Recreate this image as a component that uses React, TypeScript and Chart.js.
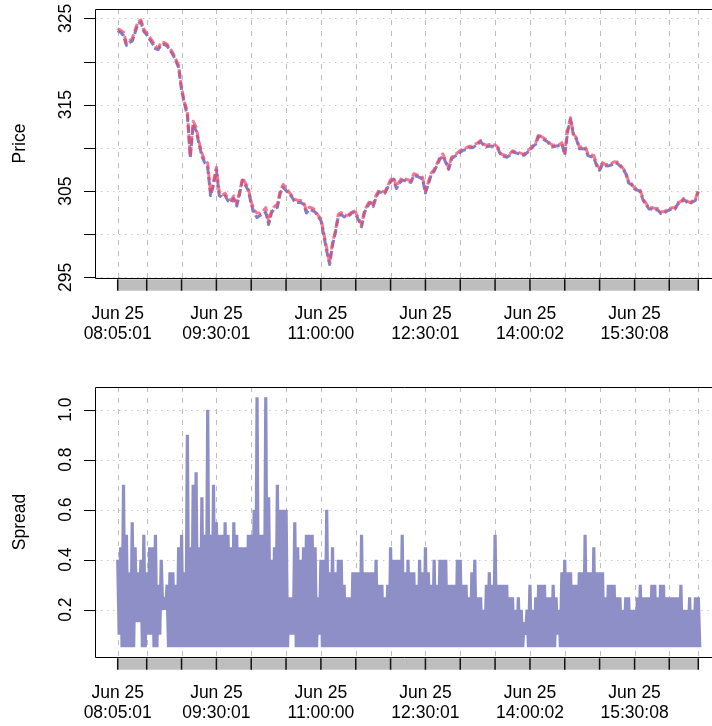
import React, { useEffect, useRef } from 'react';
import { Chart, registerables } from 'chart.js';

Chart.register(...registerables);

// Time axis: minutes after 08:00:00 on Jun 25; samples every 2.5 minutes starting 08:05:01
const START_MIN = 5.017;
const STEP_MIN = 2.5;

// Mid price (between bid and ask)
const midPrice = [
  323.7, 323.5, 323.2, 322.0, 322.3, 322.5, 323.5, 324.5, 324.7, 323.6,
  323.2, 322.7, 322.2, 321.6, 321.5, 322.1, 322.1, 321.9, 321.4, 320.9,
  320.2, 319.4, 316.8, 315.2, 314.0, 309.0, 312.9, 312.2, 310.6, 309.2,
  308.4, 308.0, 304.6, 305.9, 307.6, 304.6, 304.4, 304.6, 304.0, 303.8,
  304.3, 303.4, 304.8, 306.4, 305.8, 305.2, 303.6, 302.6, 302.2, 302.3,
  302.5, 302.8, 301.3, 302.6, 303.1, 303.3, 304.9, 305.6, 305.2, 304.8,
  304.4, 303.9, 303.8, 303.8, 303.6, 302.6, 303.0, 302.9, 302.7, 302.1,
  301.7, 300.0, 298.2, 296.6, 298.9, 300.3, 302.2, 302.4, 302.1, 302.1,
  302.3, 302.7, 302.4, 301.7, 301.0, 302.6, 303.3, 303.8, 303.3, 304.4,
  305.0, 304.9, 304.8, 305.5, 306.2, 306.5, 305.4, 306.0, 306.4, 306.3,
  306.2, 306.1, 306.9, 306.8, 306.7, 306.5, 304.9, 305.9, 307.0, 307.4,
  308.1, 308.8, 309.2, 308.4, 307.6, 308.8, 309.1, 309.3, 309.6, 309.8,
  309.9, 310.1, 310.1, 310.3, 310.5, 310.8, 310.4, 310.2, 310.3, 310.3,
  310.2, 310.0, 309.2, 309.1, 309.0, 309.2, 309.6, 309.5, 309.4, 309.3,
  309.2, 309.5, 309.8, 310.2, 310.5, 311.5, 311.2, 311.0, 310.8, 310.4,
  310.2, 310.3, 310.3, 310.5, 309.3, 312.0, 313.4, 311.5, 311.1, 310.0,
  310.0, 310.0, 309.2, 309.1, 309.0, 308.0, 307.5, 308.2, 308.0, 308.0,
  308.1, 308.3, 308.3, 308.0, 307.6, 307.1, 306.0, 305.8, 305.3, 305.2,
  305.0, 304.0, 303.5, 303.0, 303.0, 302.9, 302.9, 302.5, 302.5, 302.7,
  302.9, 303.0, 303.0, 303.6, 303.7, 304.1, 303.8, 303.6, 303.8, 304.0,
  305.0,
];

// Highest spread seen in each 2.5-minute interval
const spreadHigh = [
  0.4, 0.45, 0.7, 0.5, 0.35, 0.55, 0.45, 0.35, 0.4, 0.5,
  0.35, 0.45, 0.45, 0.5, 0.3, 0.4, 0.25, 0.3, 0.35, 0.35,
  0.3, 0.45, 0.5, 0.35, 0.9, 0.45, 0.7, 0.75, 0.45, 0.65,
  0.5, 1.0, 0.5, 0.7, 0.55, 0.5, 0.5, 0.55, 0.5, 0.45,
  0.55, 0.5, 0.45, 0.45, 0.45, 0.5, 0.5, 0.6, 1.05, 0.5,
  0.5, 1.05, 0.65, 0.4, 0.45, 0.7, 0.6, 0.6, 0.6, 0.25,
  0.25, 0.55, 0.45, 0.4, 0.45, 0.5, 0.5, 0.5, 0.45, 0.25,
  0.4, 0.4, 0.6, 0.35, 0.45, 0.35, 0.4, 0.4, 0.3, 0.25,
  0.25, 0.35, 0.35, 0.35, 0.5, 0.35, 0.35, 0.35, 0.35, 0.4,
  0.3, 0.3, 0.25, 0.3, 0.45, 0.4, 0.4, 0.4, 0.5, 0.35,
  0.4, 0.35, 0.35, 0.3, 0.4, 0.35, 0.45, 0.35, 0.3, 0.4,
  0.3, 0.4, 0.4, 0.4, 0.3, 0.3, 0.3, 0.4, 0.4, 0.3,
  0.3, 0.25, 0.35, 0.4, 0.25, 0.25, 0.2, 0.3, 0.35, 0.3,
  0.5, 0.3, 0.3, 0.3, 0.3, 0.25, 0.25, 0.2, 0.25, 0.2,
  0.15, 0.2, 0.3, 0.2, 0.25, 0.3, 0.3, 0.3, 0.25, 0.25,
  0.3, 0.25, 0.2, 0.35, 0.4, 0.35, 0.35, 0.3, 0.3, 0.35,
  0.35, 0.5, 0.35, 0.35, 0.45, 0.35, 0.35, 0.35, 0.25, 0.3,
  0.3, 0.3, 0.25, 0.25, 0.2, 0.25, 0.25, 0.2, 0.2, 0.25,
  0.3, 0.25, 0.25, 0.25, 0.3, 0.3, 0.25, 0.3, 0.3, 0.25,
  0.25, 0.25, 0.25, 0.25, 0.3, 0.2, 0.2, 0.25, 0.2, 0.25,
  0.25,
];

// Lowest spread seen in each 2.5-minute interval
const spreadLow = [
  0.1, 0.05, 0.05, 0.05, 0.05, 0.05, 0.15, 0.15, 0.05, 0.05,
  0.1, 0.1, 0.05, 0.05, 0.1, 0.2, 0.2, 0.05, 0.05, 0.05,
  0.05, 0.05, 0.05, 0.05, 0.05, 0.05, 0.05, 0.05, 0.05, 0.05,
  0.05, 0.05, 0.05, 0.05, 0.05, 0.05, 0.05, 0.05, 0.05, 0.05,
  0.05, 0.05, 0.05, 0.05, 0.05, 0.05, 0.05, 0.05, 0.05, 0.05,
  0.05, 0.05, 0.05, 0.05, 0.05, 0.05, 0.05, 0.05, 0.05, 0.1,
  0.1, 0.05, 0.05, 0.05, 0.05, 0.05, 0.05, 0.05, 0.05, 0.1,
  0.05, 0.05, 0.05, 0.05, 0.05, 0.05, 0.05, 0.05, 0.05, 0.05,
  0.05, 0.05, 0.05, 0.05, 0.05, 0.05, 0.05, 0.05, 0.05, 0.05,
  0.05, 0.05, 0.05, 0.05, 0.05, 0.05, 0.05, 0.05, 0.05, 0.05,
  0.05, 0.05, 0.05, 0.05, 0.05, 0.05, 0.05, 0.05, 0.05, 0.05,
  0.05, 0.05, 0.05, 0.05, 0.05, 0.05, 0.05, 0.05, 0.05, 0.05,
  0.05, 0.05, 0.05, 0.05, 0.05, 0.05, 0.05, 0.05, 0.05, 0.05,
  0.05, 0.05, 0.05, 0.05, 0.05, 0.05, 0.05, 0.05, 0.05, 0.05,
  0.1, 0.05, 0.05, 0.05, 0.05, 0.05, 0.05, 0.05, 0.05, 0.05,
  0.05, 0.1, 0.05, 0.05, 0.05, 0.05, 0.05, 0.05, 0.05, 0.05,
  0.05, 0.05, 0.05, 0.05, 0.05, 0.05, 0.05, 0.05, 0.05, 0.05,
  0.05, 0.05, 0.05, 0.05, 0.05, 0.05, 0.05, 0.05, 0.05, 0.05,
  0.05, 0.05, 0.05, 0.05, 0.05, 0.05, 0.05, 0.05, 0.05, 0.05,
  0.05, 0.05, 0.05, 0.05, 0.05, 0.05, 0.05, 0.05, 0.05, 0.05,
  0.05,
];

// Vertical grid / axis-bar divisions (minutes after 08:00)
const gridTimes = [5.017, 30, 60, 90.017, 120, 150, 180, 210, 240, 270.017, 300, 330, 360.033, 390, 420, 450.133, 480, 505.017];
const labelTimes = [5.017, 90.017, 180, 270.017, 360.033, 450.133];
const labelDates = ['Jun 25', 'Jun 25', 'Jun 25', 'Jun 25', 'Jun 25', 'Jun 25'];
const labelClock = ['08:05:01', '09:30:01', '11:00:00', '12:30:01', '14:00:02', '15:30:08'];

const priceTicks = [295, 300, 305, 310, 315, 320, 325];
const priceTickLabels = ['295', '', '305', '', '315', '', '325'];
const spreadTicks = [0.2, 0.4, 0.6, 0.8, 1.0];
const spreadTickLabels = ['0.2', '0.4', '0.6', '0.8', '1.0'];

const X_MIN = -14.53;
const X_MAX = 516.8;

const FONT = '17.5px "Liberation Sans", Arial, Helvetica, sans-serif';

const sampleTimes = midPrice.map((_, i) => START_MIN + STEP_MIN * i);

function panelPlugin(cfg: { ticks: number[]; labels: string[]; title: string }) {
  return {
    id: 'rPanel',
    beforeDatasetsDraw(chart: any) {
      const { ctx, chartArea: a, scales } = chart;
      const x = scales.x;
      const y = scales.y;
      ctx.save();
      ctx.lineWidth = 1;
      ctx.strokeStyle = '#cdcdcd';
      ctx.setLineDash([1.5, 4.5]);
      for (const v of cfg.ticks) {
        const py = Math.round(y.getPixelForValue(v)) + 0.5;
        ctx.beginPath();
        ctx.moveTo(a.left, py);
        ctx.lineTo(a.right, py);
        ctx.stroke();
      }
      ctx.strokeStyle = '#bdbdbd';
      ctx.setLineDash([5, 6]);
      for (const t of gridTimes) {
        const px = Math.round(x.getPixelForValue(t)) + 0.5;
        ctx.beginPath();
        ctx.moveTo(px, a.top);
        ctx.lineTo(px, a.bottom);
        ctx.stroke();
      }
      ctx.restore();
    },
    afterDatasetsDraw(chart: any) {
      const { ctx, chartArea: a, scales } = chart;
      const x = scales.x;
      const y = scales.y;
      ctx.save();
      // box
      ctx.setLineDash([]);
      ctx.strokeStyle = '#000';
      ctx.lineWidth = 1;
      const L = Math.round(a.left) + 0.5;
      const T = Math.round(a.top) + 0.5;
      const B = Math.round(a.bottom) + 0.5;
      ctx.beginPath();
      ctx.moveTo(a.right + 10, T);
      ctx.lineTo(L, T);
      ctx.lineTo(L, B);
      ctx.lineTo(a.right + 10, B);
      ctx.stroke();
      // y ticks
      ctx.fillStyle = '#000';
      ctx.font = FONT;
      cfg.ticks.forEach((v, i) => {
        const py = Math.round(y.getPixelForValue(v)) + 0.5;
        ctx.beginPath();
        ctx.moveTo(L, py);
        ctx.lineTo(L - 11.5, py);
        ctx.stroke();
        const lab = cfg.labels[i];
        if (lab) {
          ctx.save();
          ctx.translate(a.left - 24.5, y.getPixelForValue(v));
          ctx.rotate(-Math.PI / 2);
          ctx.textAlign = 'center';
          ctx.textBaseline = 'alphabetic';
          ctx.fillText(lab, 0, 0);
          ctx.restore();
        }
      });
      // axis title
      ctx.save();
      ctx.translate(25, (a.top + a.bottom) / 2);
      ctx.rotate(-Math.PI / 2);
      ctx.textAlign = 'center';
      ctx.textBaseline = 'alphabetic';
      ctx.fillText(cfg.title, 0, 0);
      ctx.restore();
      // grey time bar
      const x0 = x.getPixelForValue(gridTimes[0]);
      const x1 = x.getPixelForValue(gridTimes[gridTimes.length - 1]);
      const barTop = a.bottom + 1.3;
      const barBot = a.bottom + 12.7;
      ctx.fillStyle = '#bebebe';
      ctx.fillRect(x0, barTop, x1 - x0, barBot - barTop);
      ctx.strokeStyle = '#111';
      ctx.lineWidth = 1.5;
      for (const t of gridTimes) {
        const px = x.getPixelForValue(t);
        ctx.beginPath();
        ctx.moveTo(px, barTop);
        ctx.lineTo(px, barBot);
        ctx.stroke();
      }
      // x labels
      ctx.fillStyle = '#000';
      ctx.textAlign = 'center';
      ctx.textBaseline = 'alphabetic';
      labelTimes.forEach((t, i) => {
        const px = x.getPixelForValue(t);
        ctx.fillText(labelDates[i], px, a.bottom + 41);
        ctx.fillText(labelClock[i], px, a.bottom + 61);
      });
      ctx.restore();
    },
  };
}

function baseOptions(yMin: number, yMax: number, padding: any) {
  return {
    animation: false,
    responsive: false,
    devicePixelRatio: 1,
    layout: { padding },
    plugins: { legend: { display: false }, tooltip: { enabled: false } },
    elements: { point: { radius: 0 } },
    scales: {
      x: { type: 'linear', min: X_MIN, max: X_MAX, display: false },
      y: { type: 'linear', min: yMin, max: yMax, display: false },
    },
  };
}

export default function App() {
  const topRef = useRef<HTMLCanvasElement>(null);
  const botRef = useRef<HTMLCanvasElement>(null);

  useEffect(() => {
    const halfSpread = spreadHigh.map((h, i) => (h + spreadLow[i]) / 4);
    const bid = midPrice.map((m, i) => ({ x: sampleTimes[i], y: m - halfSpread[i] }));
    const ask = midPrice.map((m, i) => ({ x: sampleTimes[i], y: m + halfSpread[i] }));

    const spreadPts: { x: number; y: number }[] = [];
    sampleTimes.forEach((t, i) => {
      spreadPts.push({ x: t, y: spreadHigh[i] });
      spreadPts.push({ x: t + STEP_MIN / 2, y: spreadLow[i] });
    });

    const top = new Chart(topRef.current as HTMLCanvasElement, {
      type: 'line',
      data: {
        datasets: [
          {
            label: 'Ask',
            data: ask,
            borderColor: 'rgba(240,70,100,0.72)',
            borderWidth: 3,
            borderDash: [8, 3],
            borderJoinStyle: 'round',
            pointRadius: 0,
            tension: 0,
          },
          {
            label: 'Bid',
            data: bid,
            borderColor: 'rgba(112,112,196,0.9)',
            borderWidth: 3,
            borderDash: [8, 3],
            borderJoinStyle: 'round',
            pointRadius: 0,
            tension: 0,
          },
        ],
      },
      options: baseOptions(294.93, 326.08, { left: 95, right: 0, top: 9, bottom: 72 }) as any,
      plugins: [panelPlugin({ ticks: priceTicks, labels: priceTickLabels, title: 'Price' })],
    } as any);

    const bot = new Chart(botRef.current as HTMLCanvasElement, {
      type: 'line',
      data: {
        datasets: [
          {
            label: 'Spread',
            data: spreadPts,
            borderColor: '#8f8fc8',
            borderWidth: 3.2,
            borderJoinStyle: 'bevel',
            pointRadius: 0,
            tension: 0,
          },
        ],
      },
      options: baseOptions(0.0108, 1.0908, { left: 95, right: 0, top: 37, bottom: 69 }) as any,
      plugins: [panelPlugin({ ticks: spreadTicks, labels: spreadTickLabels, title: 'Spread' })],
    } as any);

    return () => {
      top.destroy();
      bot.destroy();
    };
  }, []);

  return (
    <div style={{ position: 'fixed', left: 0, top: 0, width: 712, height: 726, overflow: 'hidden', background: '#fff' }}>
      <canvas ref={topRef} width={712} height={350} style={{ position: 'absolute', left: 0, top: 0 }} />
      <canvas ref={botRef} width={712} height={376} style={{ position: 'absolute', left: 0, top: 350 }} />
    </div>
  );
}
